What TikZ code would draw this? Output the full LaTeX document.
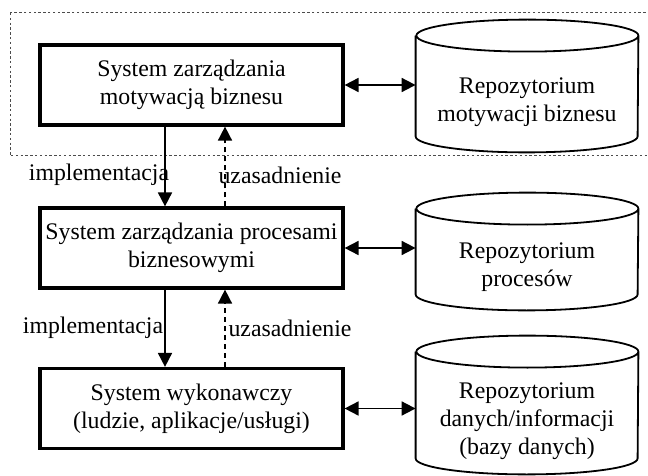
\documentclass[tikz,border=0pt]{standalone}
\usepackage{fontspec}
\setmainfont{Liberation Serif}
\usetikzlibrary{arrows.meta,positioning}

\begin{document}
\begin{tikzpicture}[x=0.5pt,y=-0.5pt,font=\fontsize{11.9}{14}\selectfont,
  sysbox/.style={draw,line width=1.6pt,align=center,minimum width=151.5pt,minimum height=40pt,inner sep=0pt},
  repo/.style={align=center,minimum width=111pt,inner sep=0pt},
  link/.style={{Triangle[length=7pt,width=7pt]}-{Triangle[length=7pt,width=7pt]},line width=0.9pt},
  impl/.style={-{Triangle[length=7pt,width=7pt]},line width=0.9pt},
  just/.style={-{Triangle[length=7pt,width=7pt]},line width=0.8pt,dash pattern=on 2.5pt off 2pt}]
\clip (0,0) rectangle (648,476);
% dotted frame round the motivation level
\draw[line width=0.5pt,dash pattern=on 1.2pt off 1.2pt,black!70] (10,13) rectangle (660,156);
% systems
\node[sysbox] (mot) at (191.5,85) {System zarządzania\\motywacją biznesu};
\node[sysbox] (proc) at (191.5,248) {System zarządzania procesami\\biznesowymi};
\node[sysbox] (exec) at (191.5,408.5) {System wykonawczy\\(ludzie, aplikacje/usługi)};
% repositories (front face of each cylinder)
\node[repo,minimum height=50pt] (rmot) at (527,102) {Repozytorium\\motywacji biznesu};
\node[repo,minimum height=42.5pt] (rproc) at (527,267.5) {Repozytorium\\procesów};
\node[repo,minimum height=53pt] (rdata) at (527,421) {Repozytorium\\danych/informacji\\(bazy danych)};
\foreach \r in {rmot,rproc,rdata}
  \draw[line width=0.9pt] ([yshift=8pt]\r.north west) -- ([yshift=8pt]\r.south west)
    arc[start angle=180,end angle=360,x radius=55.5pt,y radius=8pt]
    -- ([yshift=8pt]\r.north east)
    arc[start angle=0,end angle=360,x radius=55.5pt,y radius=8pt];
% links
\draw[link] (mot.east) -- (mot.east -| rmot.west);
\draw[link] (proc.east) -- (proc.east -| rproc.west);
\draw[link] (exec.east) -- (exec.east -| rdata.west);
\draw[impl] ([xshift=-13.25pt]mot.south) -- ([xshift=-13.25pt]proc.north);
\draw[just] ([xshift=16.75pt]proc.north) -- ([xshift=16.75pt]mot.south);
\draw[impl] ([xshift=-13.25pt]proc.south) -- ([xshift=-13.25pt]exec.north);
\draw[just] ([xshift=16.75pt]exec.north) -- ([xshift=16.75pt]proc.south);
% labels
\node (impl1) at (99,175) {implementacja};
\node (just1) at (280,175) {uzasadnienie};
\node (impl2) at (93,328) {implementacja};
\node (just2) at (290,328) {uzasadnienie};
\end{tikzpicture}
\end{document}
